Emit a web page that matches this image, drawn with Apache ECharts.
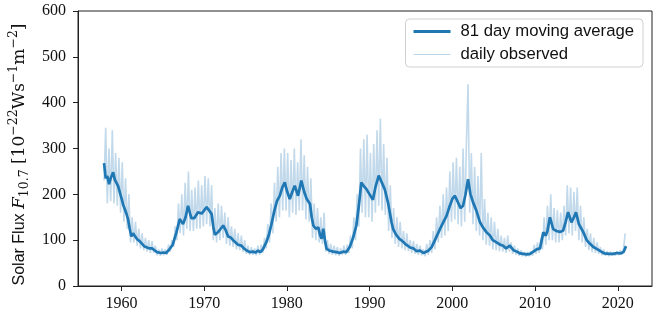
<!DOCTYPE html>
<html>
<head>
<meta charset="utf-8">
<script src="https://cdn.jsdelivr.net/npm/echarts@6/dist/echarts.min.js"></script>
<style>
  html, body { margin: 0; padding: 0; background: #fff; }
  #chart { width: 659px; height: 318px; }
</style>
</head>
<body>
<div id="chart"></div>
<script>
// 81 day moving average (year, sfu)
const avgYears = [
  1957.9, 1958.1, 1958.3, 1958.5, 1958.7, 1959.0, 1959.2, 1959.4, 1959.6, 1959.8,
  1960.0, 1960.2, 1960.4, 1960.6, 1960.8, 1961.0, 1961.2, 1961.4, 1961.6, 1961.9,
  1962.2, 1962.5, 1962.8, 1963.1, 1963.4, 1963.7, 1964.0, 1964.3, 1964.5, 1964.8,
  1965.1, 1965.4, 1965.8, 1966.2, 1966.65, 1967.05, 1967.45, 1967.75, 1968.05, 1968.45,
  1968.8, 1969.25, 1969.7, 1970.0, 1970.3, 1970.6, 1970.9, 1971.1, 1971.3, 1971.7,
  1972.0, 1972.3, 1972.6, 1972.9, 1973.2, 1973.5, 1973.8, 1974.1, 1974.5, 1974.8,
  1975.1, 1975.5, 1975.9, 1976.2, 1976.5, 1976.8, 1977.1, 1977.5, 1977.8, 1978.1,
  1978.5, 1978.8, 1979.15, 1979.45, 1979.75, 1980.05, 1980.35, 1980.65, 1980.95, 1981.35,
  1981.75, 1982.1, 1982.4, 1982.8, 1983.0, 1983.2, 1983.5, 1983.8, 1984.0, 1984.2,
  1984.4, 1984.6, 1984.8, 1985.2, 1985.6, 1986.0, 1986.4, 1986.8, 1987.2, 1987.6,
  1988.0, 1988.4, 1988.7, 1989.0, 1989.3, 1989.6, 1990.0, 1990.4, 1990.7, 1991.1,
  1991.5, 1991.85, 1992.25, 1992.65, 1992.85, 1993.2, 1993.6, 1993.9, 1994.3, 1994.9,
  1995.3, 1995.7, 1996.1, 1996.5, 1997.1, 1997.5, 1997.9, 1998.5, 1998.9, 1999.3,
  1999.7, 2000.0, 2000.3, 2000.7, 2001.0, 2001.3, 2001.6, 2001.9, 2002.2, 2002.5,
  2002.9, 2003.35, 2003.7, 2004.15, 2004.55, 2004.9, 2005.35, 2005.8, 2006.15, 2006.5,
  2006.95, 2007.4, 2007.8, 2008.2, 2008.6, 2009.0, 2009.4, 2009.8, 2010.2, 2010.6,
  2011.0, 2011.3, 2011.5, 2011.8, 2012.2, 2012.6, 2013.0, 2013.4, 2013.7, 2014.0,
  2014.4, 2014.7, 2014.95, 2015.3, 2015.85, 2016.25, 2016.65, 2017.05, 2017.45, 2017.9,
  2018.4, 2019.0, 2019.45, 2019.9, 2020.3, 2020.7, 2021.0
];
const avgValues = [
  268, 235, 240, 222, 235, 248, 232, 228, 218, 205,
  192, 178, 168, 158, 146, 125, 108, 115, 112, 102,
  98, 92, 86, 84, 82, 82, 78, 74, 70, 72,
  73, 72, 80, 90, 117, 146, 135, 150, 175, 148,
  148, 161, 158, 165, 172, 165, 157, 130, 112, 118,
  125, 132, 122, 108, 106, 100, 95, 90, 88, 82,
  78, 74, 75, 73, 77, 74, 80, 95, 110, 132,
  165, 185, 197, 215, 226, 205, 190, 205, 219, 197,
  230, 205, 190, 179, 150, 132, 125, 128, 112, 103,
  125, 100, 81, 77, 75, 74, 72, 75, 74, 85,
  105, 132, 175, 226, 218, 212, 200, 188, 215, 241,
  225, 210, 180, 139, 124, 112, 103, 99, 92, 84,
  82, 76, 77, 72, 77, 85, 100, 124, 139, 153,
  175, 190, 197, 182, 170, 175, 200, 233, 200, 183,
  165, 139, 128, 117, 110, 100, 95, 90, 88, 82,
  88, 78, 75, 71, 70, 69, 70, 75, 80, 82,
  117, 110, 120, 150, 124, 120, 118, 121, 140, 161,
  139, 150, 161, 135, 117, 100, 92, 85, 81, 76,
  71, 70, 70, 72, 71, 74, 87
];

// daily observed flux, sampled every 0.2 yr starting 1957.9
const dailyStart = 1957.9;
const dailyStep = 0.2;
const dailyValues = [
  230, 345, 180, 300, 185,   // 1958
  340, 180, 290, 175, 280,   // 1959
  160, 270, 140, 235, 125,   // 1960
  200, 95, 150, 95, 140,     // 1961
  88, 125, 82, 115, 78,      // 1962
  105, 75, 100, 72, 98,      // 1963
  72, 88, 67, 80, 66,        // 1964
  82, 67, 80, 68, 90,        // 1965
  75, 100, 85, 130, 100,     // 1966
  180, 115, 200, 110, 225,   // 1967
  125, 250, 120, 210, 120,   // 1968
  215, 125, 230, 125, 220,   // 1969
  130, 240, 135, 235, 130,   // 1970
  220, 100, 170, 95, 180,    // 1971
  100, 175, 105, 160, 92,    // 1972
  150, 88, 130, 85, 125,     // 1973
  80, 115, 78, 110, 74,      // 1974
  100, 70, 88, 68, 85,       // 1975
  68, 82, 67, 88, 68,        // 1976
  90, 72, 105, 82, 135,      // 1977
  95, 180, 115, 225, 140,    // 1978
  260, 150, 290, 165, 300,   // 1979
  165, 290, 150, 275, 160,   // 1980
  300, 155, 270, 165, 320,   // 1981
  165, 285, 145, 260, 140,   // 1982
  235, 105, 180, 100, 170,   // 1983
  95, 150, 92, 160, 75,      // 1984
  100, 70, 92, 68, 88,       // 1985
  67, 85, 66, 82, 68,        // 1986
  88, 68, 90, 72, 110,       // 1987
  82, 150, 100, 200, 130,    // 1988
  300, 160, 320, 150, 330,   // 1989
  150, 290, 140, 310, 160,   // 1990
  340, 175, 365, 165, 310,   // 1991
  155, 280, 120, 220, 105,   // 1992
  170, 92, 150, 85, 140,     // 1993
  82, 120, 78, 115, 76,      // 1994
  100, 72, 98, 70, 92,       // 1995
  68, 88, 67, 80, 65,        // 1996
  92, 68, 100, 72, 120,      // 1997
  80, 150, 95, 175, 105,     // 1998
  200, 110, 215, 120, 250,   // 1999
  140, 270, 145, 280, 135,   // 2000
  260, 130, 300, 140, 310,   // 2001
  440, 160, 290, 135, 260,   // 2002
  120, 240, 110, 290, 100,   // 2003
  190, 90, 160, 88, 150,     // 2004
  80, 140, 78, 125, 76,      // 2005
  110, 75, 105, 72, 110,     // 2006
  75, 95, 70, 88, 68,        // 2007
  82, 66, 78, 65, 74,        // 2008
  64, 74, 65, 76, 66,        // 2009
  90, 70, 95, 72, 105,       // 2010
  80, 150, 90, 175, 100,     // 2011
  200, 100, 170, 95, 165,    // 2012
  95, 160, 100, 175, 110,    // 2013
  220, 115, 215, 110, 205,   // 2014
  120, 215, 100, 175, 95,    // 2015
  150, 85, 125, 78, 115,     // 2016
  74, 105, 72, 95, 70,       // 2017
  85, 67, 80, 66, 76,        // 2018
  65, 75, 66, 74, 66,        // 2019
  76, 67, 78, 68, 82,        // 2020
  115
];

const xTicks = [1960, 1970, 1980, 1990, 2000, 2010, 2020];
const xMin = 1954.75;
const xMax = 2024.14;

const avgData = avgYears.map((y, i) => [y, avgValues[i]]);
const dailyData = dailyValues.map((v, i) => [+(dailyStart + i * dailyStep).toFixed(2), v]);

const serif = '"Liberation Serif", "DejaVu Serif", serif';
const mathSerif = '"DejaVu Serif", serif';
const sans = '"Liberation Sans", Arial, sans-serif';

const myChart = echarts.init(document.getElementById('chart'));
const option = {
  animation: false,
  grid: {
    left: 78, right: 7, top: 11, bottom: 32,
    outerBoundsMode: 'none',
    containLabel: false,
    show: true, borderColor: '#222', borderWidth: 1
  },
  legend: {
    data: [
      { name: '81 day moving average', icon: 'path://M0,0L40,0L40,3L0,3Z' },
      { name: 'daily observed', icon: 'path://M0,0L40,0L40,1L0,1Z' }
    ],
    orient: 'vertical',
    right: 16,
    top: 19,
    itemWidth: 37,
    itemHeight: 16,
    itemGap: 6,
    padding: [4, 9, 4, 8],
    borderColor: '#d0d0d0',
    borderWidth: 1,
    borderRadius: 4,
    backgroundColor: 'rgba(255,255,255,0.8)',
    textStyle: { fontFamily: sans, fontSize: 16.7, color: '#111', padding: [0, 0, 0, 5] }
  },
  xAxis: {
    type: 'value',
    min: xMin,
    max: xMax,
    splitLine: { show: false },
    axisLine: { lineStyle: { color: '#222' } },
    axisTick: { customValues: xTicks, length: 5, lineStyle: { color: '#222' } },
    axisLabel: {
      customValues: xTicks,
      formatter: v => String(Math.round(v)),
      margin: 10,
      fontFamily: serif,
      fontSize: 16,
      color: '#111'
    }
  },
  yAxis: {
    type: 'value',
    min: 0,
    max: 600,
    interval: 100,
    splitLine: { show: false },
    axisLine: { show: true, lineStyle: { color: '#222' } },
    axisTick: { show: true, length: 5, lineStyle: { color: '#222' } },
    axisLabel: { margin: 12, fontFamily: serif, fontSize: 16, color: '#111' },
    name: '{sans|Solar Flux }{it|F}{sub|10.7}{rm| [10}{sup|−22}{rm|Ws}{sup|−1}{rm|m}{sup|−2}{rm|]}',
    nameLocation: 'middle',
    nameRotate: 90,
    nameGap: 46,
    nameTextStyle: {
      padding: [0, 12, 0, 0],
      rich: {
        sans: { fontFamily: sans, fontSize: 16, color: '#111', lineHeight: 24, verticalAlign: 'middle' },
        it: { fontFamily: mathSerif, fontStyle: 'italic', fontSize: 17, color: '#111', lineHeight: 24, verticalAlign: 'middle' },
        rm: { fontFamily: mathSerif, fontSize: 17, color: '#111', lineHeight: 24, verticalAlign: 'middle' },
        sub: { fontFamily: mathSerif, fontSize: 12.5, color: '#111', lineHeight: 24, verticalAlign: 'bottom' },
        sup: { fontFamily: mathSerif, fontSize: 12.5, color: '#111', lineHeight: 24, verticalAlign: 'top' }
      }
    }
  },
  series: [
    {
      name: 'daily observed',
      type: 'line',
      data: dailyData,
      symbol: 'none',
      z: 1,
      lineStyle: { width: 1.6, color: 'rgba(31,119,180,0.28)' },
      itemStyle: { color: 'rgba(31,119,180,0.3)' }
    },
    {
      name: '81 day moving average',
      type: 'line',
      data: avgData,
      symbol: 'none',
      z: 2,
      lineStyle: { width: 2.7, color: '#1f77b4' },
      itemStyle: { color: '#1f77b4' }
    }
  ]
};
myChart.setOption(option);
</script>
</body>
</html>
